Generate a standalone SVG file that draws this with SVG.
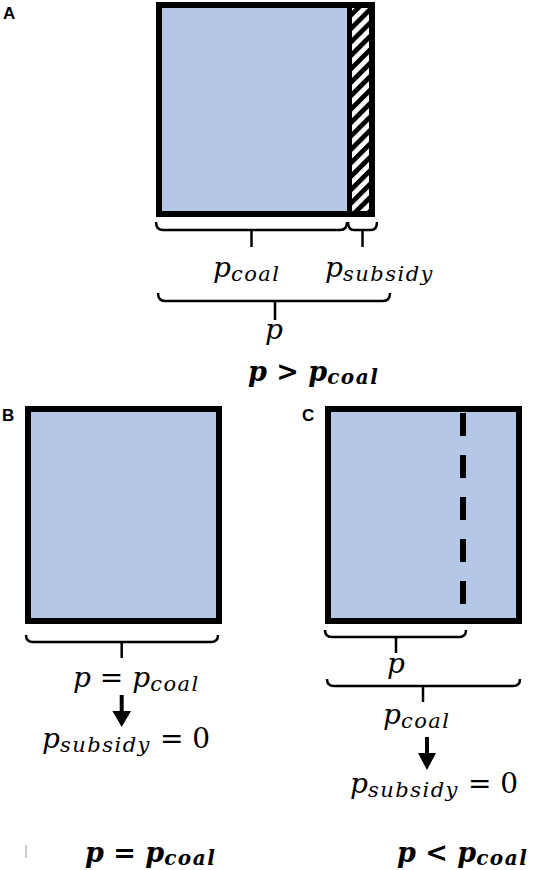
<svg xmlns="http://www.w3.org/2000/svg" width="533" height="870" viewBox="0 0 533 870">
<style>
.box{fill:#b4c7e7;stroke:#000;stroke-width:6}
.br{fill:none;stroke:#000;stroke-width:2.5}
.lbl{font-family:"Liberation Sans",Arial,sans-serif;font-weight:bold;font-size:17px;fill:#000}
.m{font-family:"DejaVu Serif",serif;font-style:italic;font-size:28px;fill:#000}
.b{font-family:"DejaVu Serif",serif;font-style:italic;font-weight:bold;font-size:27px;fill:#000}
.s{font-size:21px;letter-spacing:1.5px}
.bs{font-size:20px;letter-spacing:1.5px}
.up{font-style:normal}
.arr{fill:#000}
</style>
<defs>
<pattern id="hatch" patternUnits="userSpaceOnUse" width="9.5" height="9.5" patternTransform="rotate(45)">
<rect width="9.5" height="9.5" fill="#fff"/>
<rect width="4.8" height="9.5" fill="#000"/>
</pattern>
</defs>
<g id="panelA">
<text class="lbl" x="3" y="19">A</text>
<rect class="box" x="159" y="5" width="213" height="209"/>
<rect x="352" y="8" width="17" height="203" fill="url(#hatch)"/>
<line x1="349.5" y1="5" x2="349.5" y2="214" stroke="#000" stroke-width="5"/>
</g>
<g id="panelB">
<text class="lbl" x="2" y="421">B</text>
<rect class="box" x="28" y="409" width="191" height="212"/>
</g>
<g id="panelC">
<text class="lbl" x="302" y="421">C</text>
<rect class="box" x="328" y="409" width="191" height="212"/>
<line x1="463" y1="413" x2="463" y2="620" stroke="#000" stroke-width="6" stroke-dasharray="23 19"/>
</g>
<g id="connectors">
<path class="br" d="M156,222 Q156,230 163,230 H340 Q347,230 347,222 M251.5,230 V247"/>
<path class="br" d="M348,222 Q348,230 354,230 H371 Q377,230 377,222 M362.5,230 V247"/>
<path class="br" d="M158,293 Q158,301 165,301 H383 Q390,301 390,293 M275,301 V320"/>
<path class="br" d="M26,635 Q26,642 33,642 H211 Q218,642 218,635 M121.7,642 V658"/>
<path class="br" d="M325,630 Q325,637 332,637 H459 Q466,637 466,630 M396,637 V653"/>
<path class="br" d="M327,679 Q327,686 334,686 H513 Q520,686 520,679 M423,686 V702"/>
<path class="arr" d="M119.7,695 H123.7 V711 H131 L121.7,727 L112.4,711 H119.7 Z"/>
<path class="arr" d="M425,737 H429 V753 H436 L427,770 L418,753 H425 Z"/>
<line x1="26" y1="845" x2="26" y2="858" stroke="#bbb" stroke-width="1.5"/>
</g>
<g id="labels">
<text class="m" x="213" y="277">p<tspan class="s" dy="4">coal</tspan></text>
<text class="m" x="325" y="277">p<tspan class="s" dy="4">subsidy</tspan></text>
<text class="m" x="265" y="339">p</text>
<text class="b" x="248" y="381">p &gt; p<tspan class="bs" dy="3">coal</tspan></text>
<text class="m" x="73" y="687">p <tspan class="up">=</tspan> p<tspan class="s" dy="4">coal</tspan></text>
<text class="m" x="42" y="748">p<tspan class="s" dy="4">subsidy</tspan><tspan class="up" dy="-4"> = 0</tspan></text>
<text class="b" x="85" y="862">p = p<tspan class="bs" dy="3">coal</tspan></text>
<text class="m" x="387" y="673">p</text>
<text class="m" x="383" y="724">p<tspan class="s" dy="4">coal</tspan></text>
<text class="m" x="350" y="793">p<tspan class="s" dy="4">subsidy</tspan><tspan class="up" dy="-4"> = 0</tspan></text>
<text class="b" x="397" y="862">p &lt; p<tspan class="bs" dy="3">coal</tspan></text>
</g>
</svg>
